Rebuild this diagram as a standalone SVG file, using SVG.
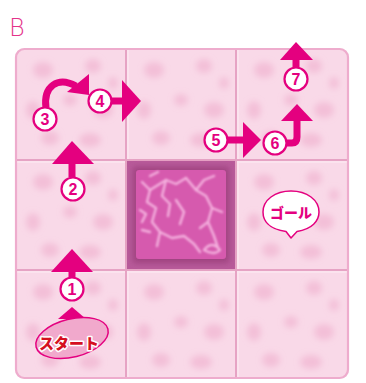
<svg xmlns="http://www.w3.org/2000/svg" width="366" height="383" viewBox="0 0 366 383">
  <defs>
    <style>
      .arrow { fill: #e4007f; }
      .shaft { stroke: #e4007f; stroke-width: 7; fill: none; }
      .badge circle { fill: #ffffff; stroke: #e4007f; stroke-width: 2.2; }
      .badge text { fill: #e4007f; font-family: "Liberation Sans", "DejaVu Sans", sans-serif; font-weight: bold; font-size: 16px; text-anchor: middle; }
      .grid { stroke: #e6a3c4; stroke-width: 2; }
      .gridhi { stroke: #fbe6f0; stroke-width: 1.5; }
      .blob { fill: #ec9fc4; opacity: 0.45; }
      .vein { stroke: #f4b0de; stroke-width: 2.4; fill: none; stroke-linecap: round; stroke-linejoin: round; }
    </style>
    <filter id="soft" x="-30%" y="-30%" width="160%" height="160%">
      <feGaussianBlur stdDeviation="3"/>
    </filter>
    <filter id="softer" x="-20%" y="-20%" width="140%" height="140%">
      <feGaussianBlur stdDeviation="0.9"/>
    </filter>
    <clipPath id="boardClip">
      <rect x="15" y="48" width="334" height="331" rx="9"/>
    </clipPath>
    <!-- flower-blotch texture for one cell (origin at cell top-left) -->
    <g id="tex" filter="url(#soft)">
      <ellipse class="blob" cx="28" cy="22" rx="10" ry="8"/>
      <ellipse class="blob" cx="78" cy="18" rx="8" ry="7"/>
      <ellipse class="blob" cx="18" cy="62" rx="7" ry="9"/>
      <ellipse class="blob" cx="55" cy="52" rx="7" ry="6"/>
      <ellipse class="blob" cx="88" cy="62" rx="10" ry="8"/>
      <ellipse class="blob" cx="35" cy="90" rx="9" ry="7"/>
      <ellipse class="blob" cx="75" cy="92" rx="11" ry="7"/>
      <ellipse class="blob" cx="98" cy="35" rx="5" ry="6"/>
    </g>
  </defs>

  <rect width="366" height="383" fill="#ffffff"/>

  <!-- section letter -->
  <text x="9" y="36" font-family="DejaVu Sans, sans-serif" font-size="24" fill="#e4338a" font-weight="200">B</text>

  <!-- board -->
  <g id="board">
    <rect x="15" y="48" width="334" height="331" rx="9" fill="#f9d9e8"/>
    <g clip-path="url(#boardClip)">
      <use href="#tex" transform="translate(15,48)"/>
      <use href="#tex" transform="translate(126,48)"/>
      <use href="#tex" transform="translate(236,48)"/>
      <use href="#tex" transform="translate(15,160)"/>
      <use href="#tex" transform="translate(236,160)"/>
      <use href="#tex" transform="translate(15,270)"/>
      <use href="#tex" transform="translate(126,270)"/>
      <use href="#tex" transform="translate(236,270)"/>
    </g>
    <!-- grid lines -->
    <line class="gridhi" x1="128" y1="48" x2="128" y2="379"/>
    <line class="gridhi" x1="238" y1="48" x2="238" y2="379"/>
    <line class="gridhi" x1="15" y1="162" x2="349" y2="162"/>
    <line class="gridhi" x1="15" y1="272" x2="349" y2="272"/>
    <line class="grid" x1="126" y1="48" x2="126" y2="379"/>
    <line class="grid" x1="236" y1="48" x2="236" y2="379"/>
    <line class="grid" x1="15" y1="160" x2="349" y2="160"/>
    <line class="grid" x1="15" y1="270" x2="349" y2="270"/>
    <rect x="16" y="49" width="332" height="329" rx="8.5" fill="none" stroke="#eeaccd" stroke-width="2.2"/>
  </g>

  <!-- centre obstacle tile -->
  <g id="obstacle">
    <rect x="127" y="161" width="108" height="108" fill="#b85a9a"/>
    <rect x="133" y="167" width="96" height="96" fill="#9e427f" filter="url(#soft)"/>
    <rect x="136" y="170" width="90" height="89" rx="3" fill="#d65aae"/>
    <g class="vein" filter="url(#softer)">
      <path d="M142 182 L150 190 L147 202 L156 208 L152 222 L160 232 L157 246"/>
      <path d="M150 190 L166 180 L176 184 L186 178"/>
      <path d="M166 180 L162 196 L170 204 L168 216"/>
      <path d="M186 178 L196 190 L206 196 L212 208 L208 222 L214 236 L218 248"/>
      <path d="M196 190 L204 180 L214 176"/>
      <path d="M212 208 L222 212"/>
      <path d="M160 232 L172 238 L184 236 L194 244 L200 252"/>
      <path d="M208 222 L200 228"/>
      <path d="M142 230 L150 232"/>
      <path d="M204 250 Q212 240 220 250 Q214 256 204 250"/>
      <path d="M176 200 L184 212 L180 224"/>
      <path d="M140 210 L146 214 L142 222"/>
      <path d="M150 176 L158 172"/>
    </g>
  </g>

  <!-- route arrows -->
  <g id="connectors">
    <!-- start to 1 -->
    <polygon class="arrow" points="72,307 58,319 86,319"/>
    <!-- 1 up -->
    <line class="shaft" x1="72" y1="277" x2="72" y2="270"/>
    <polygon class="arrow" points="72,249 51,272 93,272"/>
    <!-- 2 up -->
    <line class="shaft" x1="72" y1="177" x2="72" y2="162"/>
    <polygon class="arrow" points="72,141 52,164 94,164"/>
    <!-- 3 curved -->
    <path class="shaft" d="M46 108 C 43 86 58 76 76 86"/>
    <polygon class="arrow" points="67,92 89,74 89,95"/>
    <!-- 4 right -->
    <line class="shaft" x1="111" y1="101" x2="124" y2="101"/>
    <polygon class="arrow" points="141,101 122,80 122,122"/>
    <!-- 5 right -->
    <line class="shaft" x1="227" y1="140" x2="245" y2="140"/>
    <polygon class="arrow" points="261,140 243,122 243,158"/>
    <!-- 6 right then up -->
    <path class="shaft" d="M286 143 L292 143 Q297 143 297 137 L297 119"/>
    <polygon class="arrow" points="297,104 281,121 313,121"/>
    <!-- 7 up -->
    <line class="shaft" x1="296" y1="67" x2="296" y2="58"/>
    <polygon class="arrow" points="296,42 280,60 313,60"/>
  </g>

  <!-- numbered steps -->
  <g id="step1" class="badge"><circle cx="72" cy="289" r="11.5"/><text x="72" y="295">1</text></g>
  <g id="step2" class="badge"><circle cx="73" cy="189" r="11.5"/><text x="73" y="195">2</text></g>
  <g id="step3" class="badge"><circle cx="45" cy="119" r="11.5"/><text x="45" y="125">3</text></g>
  <g id="step4" class="badge"><circle cx="100" cy="101" r="11.5"/><text x="100" y="107">4</text></g>
  <g id="step5" class="badge"><circle cx="216" cy="140" r="11.5"/><text x="216" y="146">5</text></g>
  <g id="step6" class="badge"><circle cx="275" cy="143" r="11.5"/><text x="275" y="149">6</text></g>
  <g id="step7" class="badge"><circle cx="296" cy="79" r="11.5"/><text x="296" y="85">7</text></g>

  <!-- start label -->
  <g id="start">
    <ellipse cx="72" cy="338" rx="37" ry="19" transform="rotate(-14 72 338)" fill="#f1a9cc" stroke="#e4007f" stroke-width="1.5"/>
    <text x="69" y="349" text-anchor="middle" font-family="Noto Sans CJK JP, sans-serif" font-weight="900" font-size="15" fill="#d5101f" stroke="#ffffff" stroke-width="3" paint-order="stroke" stroke-linejoin="round">スタート</text>
  </g>

  <!-- goal label -->
  <g id="goal">
    <path d="M286 231.5 C 268 229 263 220 263 212 C 263 200 275 191 291 191 C 307 191 319 200 319 212 C 319 221 312 229 297 231.5 L 291 238 Z" fill="#ffffff" stroke="#e4007f" stroke-width="1.5" stroke-linejoin="round"/>
    <text x="291" y="218" text-anchor="middle" font-family="Noto Sans CJK JP, sans-serif" font-weight="900" font-size="14" fill="#e4007f">ゴール</text>
  </g>
</svg>
